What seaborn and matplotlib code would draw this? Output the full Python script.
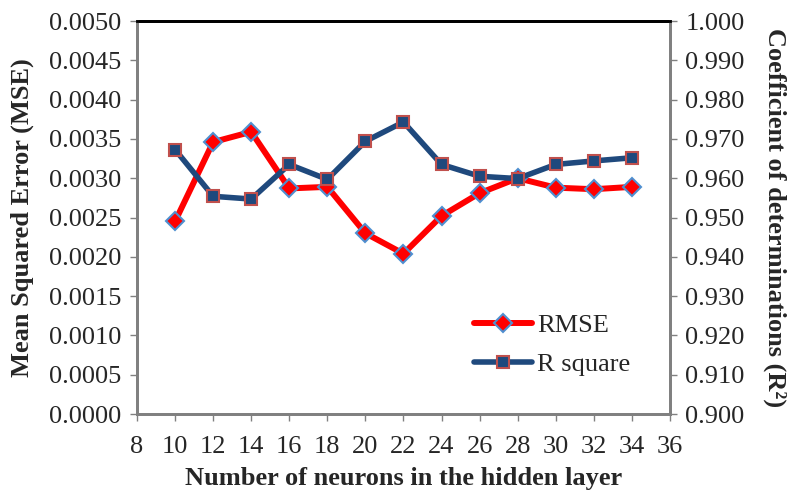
import seaborn as sns
import matplotlib.pyplot as plt
import pandas as pd
from matplotlib.lines import Line2D

neurons = [10, 12, 14, 16, 18, 20, 22, 24, 26, 28, 30, 32, 34]
rmse = [0.00245, 0.00346, 0.00359, 0.00287, 0.00289, 0.00230, 0.00204,
        0.00252, 0.00281, 0.00300, 0.00288, 0.00286, 0.00289]
r_square = [0.9673, 0.9554, 0.9547, 0.9635, 0.9597, 0.9694, 0.9743,
            0.9635, 0.9605, 0.9599, 0.9635, 0.9644, 0.9652]

df = pd.DataFrame({"neurons": neurons, "RMSE": rmse, "R square": r_square})

sns.set_theme(style="white")
plt.rcParams["font.family"] = ["Liberation Serif", "DejaVu Serif"]

fig = plt.figure(figsize=(7.9, 4.97), dpi=100)
ax = fig.add_axes([0.1734, 0.167, 0.6746, 0.7907])
ax2 = ax.twinx()

red = "#FF0000"
navy = "#1F497D"
fs = 19

sns.lineplot(data=df, x="neurons", y="RMSE", ax=ax, color=red, linewidth=4.3,
             marker="D", markersize=9, markerfacecolor=red,
             markeredgecolor="#4F8FD0", markeredgewidth=1.5)
sns.lineplot(data=df, x="neurons", y="R square", ax=ax2, color=navy, linewidth=4.0,
             marker="s", markersize=9, markerfacecolor=navy,
             markeredgecolor="#C0504D", markeredgewidth=1.5)

ax.set_xlim(8, 36)
ax.set_ylim(0, 0.005)
ax2.set_ylim(0.9, 1.0)
ax.set_xticks(range(8, 37, 2))
ax.set_yticks([i * 0.0005 for i in range(11)])
ax.set_yticklabels([f"{i * 0.0005:.4f}" for i in range(11)])
ax2.set_yticks([0.9 + i * 0.01 for i in range(11)])
ax2.set_yticklabels([f"{0.9 + i * 0.01:.3f}" for i in range(11)])

for a in (ax, ax2):
    a.tick_params(axis="both", labelsize=fs, direction="out", length=5,
                  width=1, color="#808080", pad=6)
    for s in ("left", "right", "bottom"):
        a.spines[s].set_color("#808080")
        a.spines[s].set_linewidth(2)
    a.spines["top"].set_color("black")
    a.spines["top"].set_linewidth(2)
ax.tick_params(axis="y", left=True, right=False)
ax.tick_params(axis="x", bottom=True, pad=11)
ax2.tick_params(axis="y", right=True, left=False)

ax.set_xlabel("Number of neurons in the hidden layer", fontsize=fs,
              fontweight="bold", labelpad=6)
ax.set_ylabel("Mean Squared Error (MSE)", fontsize=fs, fontweight="bold", labelpad=11)
ax2.set_ylabel("Coefficient of determinations (R²)", fontsize=fs,
               fontweight="bold", rotation=270, labelpad=30)

ax.grid(False)
ax2.grid(False)

handles = [
    Line2D([], [], color=red, linewidth=4.3, marker="D", markersize=9,
           markerfacecolor=red, markeredgecolor="#4F8FD0", markeredgewidth=1.5),
    Line2D([], [], color=navy, linewidth=4.0, marker="s", markersize=9,
           markerfacecolor=navy, markeredgecolor="#C0504D", markeredgewidth=1.5),
]
if ax.get_legend():
    ax.get_legend().remove()
ax2.legend(handles, ["RMSE", "R square"], loc="lower right",
           bbox_to_anchor=(0.97, 0.035), frameon=False, fontsize=fs,
           handlelength=2.2, handletextpad=0.2, labelspacing=0.6)

fig.savefig("out.png", dpi=100)
